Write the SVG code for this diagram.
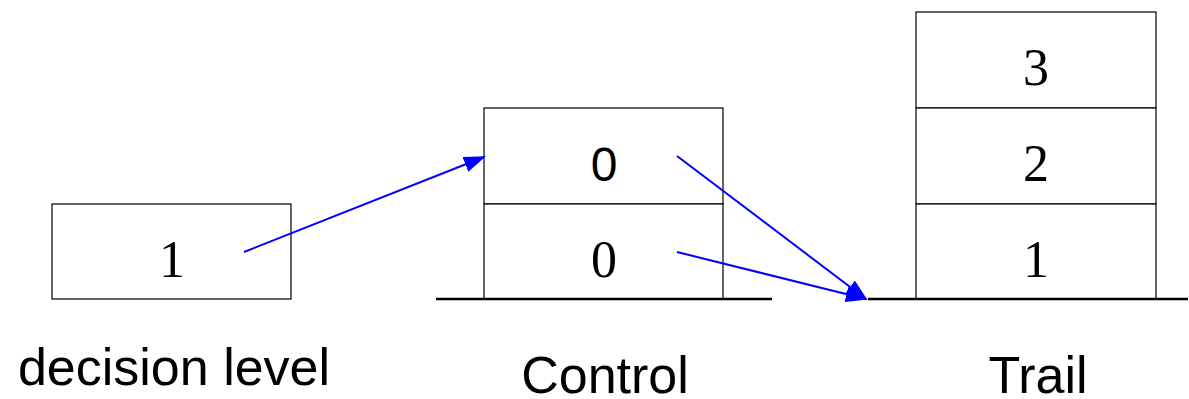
<svg xmlns="http://www.w3.org/2000/svg" width="1189" height="399" viewBox="0 0 1189 399">
<style>
.box{fill:#fff;stroke:#000;stroke-width:1.2}
.base{stroke:#000;stroke-width:2.5}
.num{font-family:"Liberation Serif",serif;font-size:52px;text-anchor:middle;fill:#000}
.sans{font-family:"Liberation Sans",sans-serif;text-anchor:middle;fill:#000}
.conn{stroke:#0000ff;stroke-width:2;fill:none;marker-end:url(#ah)}
</style>
<defs>
<marker id="ah" markerWidth="22" markerHeight="16" refX="20" refY="8" orient="auto" markerUnits="userSpaceOnUse">
<path d="M0,0 L22,8 L0,16 Z" fill="#0000ff"/>
</marker>
</defs>
<rect width="1189" height="399" fill="#fff"/>
<g id="decision">
<rect class="box" x="52" y="204" width="239" height="95"/>
<text class="num" x="172" y="277">1</text>
<text class="sans" x="174" y="385" font-size="52">decision level</text>
</g>
<g id="control">
<rect class="box" x="484" y="108" width="239" height="96"/>
<rect class="box" x="484" y="204" width="239" height="95"/>
<line class="base" x1="436" y1="299" x2="772" y2="299"/>
<text class="sans" x="604" y="181" font-size="48">0</text>
<text class="num" x="604" y="277">0</text>
<text class="sans" x="605" y="393" font-size="52">Control</text>
</g>
<g id="trail">
<rect class="box" x="916" y="12" width="240" height="96"/>
<rect class="box" x="916" y="108" width="240" height="96"/>
<rect class="box" x="916" y="204" width="240" height="95"/>
<line class="base" x1="868" y1="299" x2="1188" y2="299"/>
<text class="num" x="1036" y="85">3</text>
<text class="num" x="1036" y="181">2</text>
<text class="num" x="1036" y="277">1</text>
<text class="sans" x="1038" y="393" font-size="52">Trail</text>
</g>
<g id="connectors">
<line class="conn" x1="244" y1="252" x2="484" y2="157"/>
<line class="conn" x1="677" y1="156" x2="866" y2="299"/>
<line class="conn" x1="677" y1="252" x2="866" y2="299"/>
</g>
</svg>
